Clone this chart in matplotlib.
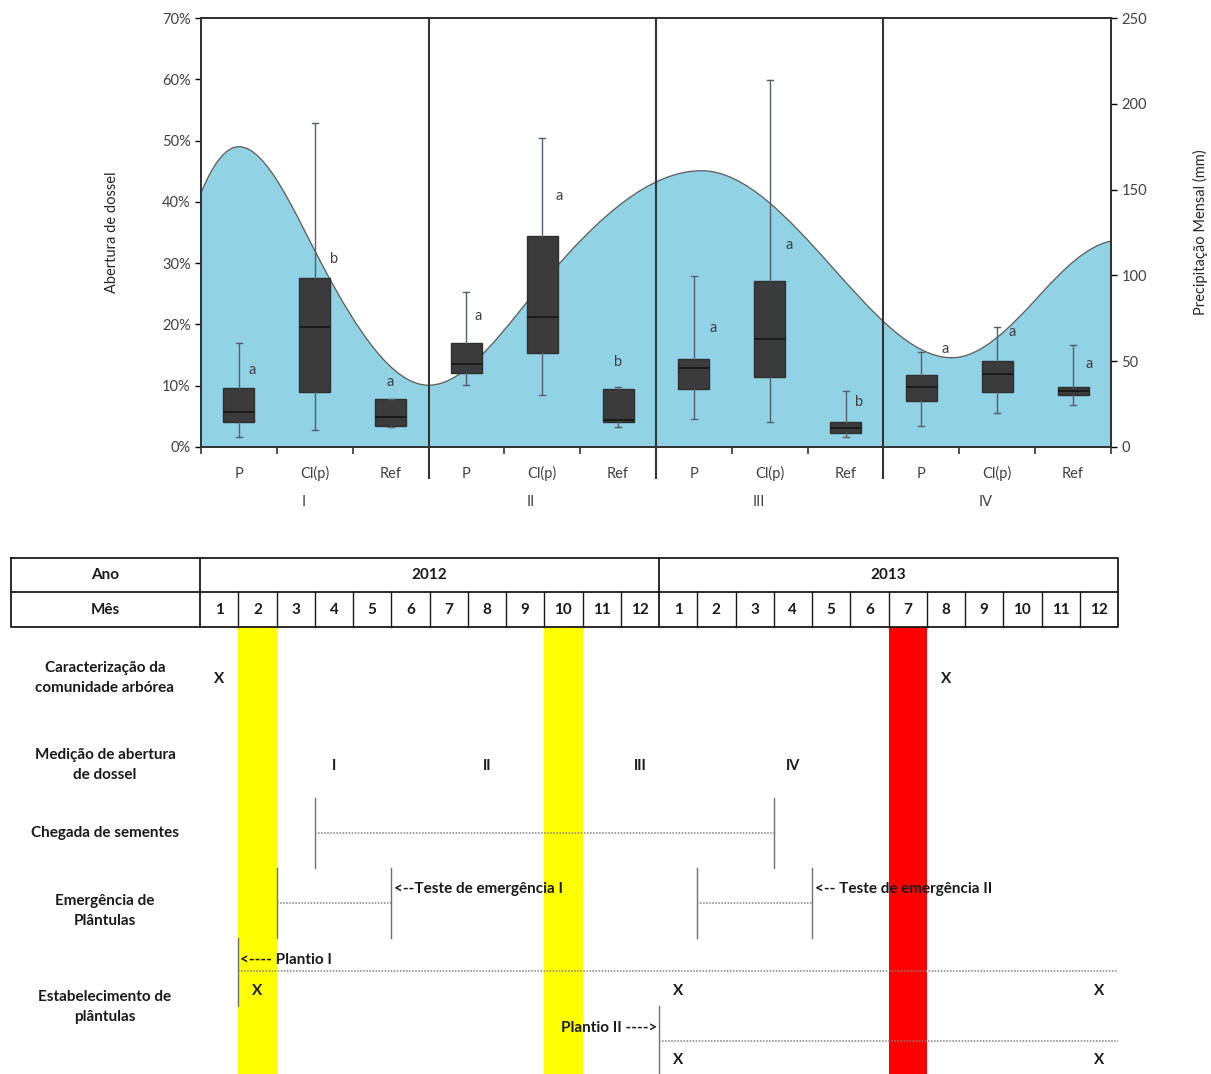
import numpy as np
import matplotlib
matplotlib.use('Agg')
import matplotlib.pyplot as plt
from matplotlib.path import Path
from matplotlib.patches import PathPatch
from matplotlib.ticker import FuncFormatter, FixedLocator
import matplotlib.transforms as mtransforms

plt.rcParams['font.family'] = ['Lato', 'DejaVu Sans']

# ---------------- dados: abertura de dossel (%) ----------------
medicoes = ['I', 'II', 'III', 'IV']
tratamentos = ['P', 'Cl(p)', 'Ref']
whis_lo = [1.6, 2.8, 3.3, 10.1, 8.5, 3.3, 4.6, 4.1, 1.6, 3.4, 5.5, 6.9]
q1 = [4.1, 9.0, 3.4, 12.0, 15.3, 4.1, 9.5, 11.4, 2.3, 7.5, 9.0, 8.5]
mediana = [5.7, 19.6, 4.9, 13.5, 21.2, 4.4, 12.9, 17.6, 3.1, 9.8, 11.9, 9.1]
q3 = [9.6, 27.6, 7.8, 17.0, 34.4, 9.5, 14.4, 27.1, 4.1, 11.7, 14.0, 9.8]
whis_hi = [17.0, 52.9, 7.9, 25.3, 50.4, 9.8, 27.9, 59.9, 9.1, 15.5, 19.6, 16.6]
letras = ['a', 'b', 'a', 'a', 'a', 'b', 'a', 'a', 'b', 'a', 'a', 'a']
letras_y = [12.6, 30.7, 10.6, 21.4, 41.0, 13.9, 19.4, 33.0, 7.3, 16.0, 18.8, 13.5]
letras_dx = [0.18, 0.25, 0.0, 0.15, 0.22, 0.0, 0.25, 0.25, 0.18, 0.32, 0.2, 0.21]

# precipitação mensal (mm): picos, vales e pontos intermediários da curva
prec_x = [-0.5, 0.0, 1.1, 2.5, 4.05, 6.1, 7.8, 9.4, 10.55, 11.5]
prec_mm = [148, 175, 106, 36, 98, 161, 106, 52, 88, 120]
prec_extremo = [False, True, False, True, False, True, False, True, False, False]

# ---------------- dados: cronograma ----------------
anos = ['2012', '2013']
meses = list(range(1, 13))
atividades = ['Caracterização da\ncomunidade arbórea',
              'Medição de abertura\nde dossel',
              'Chegada de sementes',
              'Emergência de\nPlântulas',
              'Estabelecimento de\nplântulas']
meses_amarelos = [(2012, 2), (2012, 10)]
meses_vermelhos = [(2013, 7)]
caracterizacao_x = [(2012, 1), (2013, 8)]
medicao_meses = [(2012, 4), (2012, 8), (2012, 12), (2013, 4)]
chegada_sementes = ((2012, 4), (2013, 4))
testes_emergencia = [((2012, 3), (2012, 6), '<--Teste de emergência I'),
                     ((2013, 2), (2013, 5), '<-- Teste de emergência II')]
plantio_1 = (2012, 2)
plantio_2 = (2013, 1)
estab_x_1 = [(2012, 2), (2013, 1), (2013, 12)]
estab_x_2 = [(2013, 1), (2013, 12)]


def idx(ym):
    ano, mes = ym
    return (ano - 2012) * 12 + mes - 1


def curva_suave(xs, ys, extremos):
    """Curva de Bézier cúbica (Hermite) que passa pelos pontos;
    tangente nula nos picos/vales."""
    x = np.asarray(xs, float)
    y = np.asarray(ys, float)
    h = np.diff(x)
    d = np.zeros_like(y)
    for k in range(1, len(y) - 1):
        if not extremos[k]:
            d[k] = 1.5 * (y[k + 1] - y[k - 1]) / (x[k + 1] - x[k - 1])
    d[0] = 2.0 * (y[1] - y[0]) / h[0]
    d[-1] = 0.25 * (y[-1] - y[-2]) / h[-1]
    verts = [(x[0], y[0])]
    codes = [Path.MOVETO]
    for k in range(len(h)):
        verts += [(x[k] + h[k] / 3, y[k] + d[k] * h[k] / 3),
                  (x[k + 1] - h[k] / 3, y[k + 1] - d[k + 1] * h[k] / 3),
                  (x[k + 1], y[k + 1])]
        codes += [Path.CURVE4] * 3
    return verts, codes


W, H = 1211, 1074
fig = plt.figure(figsize=(W / 100, H / 100), dpi=100)

# ================= gráfico superior =================
ax = fig.add_axes([201 / W, 1 - 447 / H, 910 / W, 429 / H])
ax2 = ax.twinx()
ax.set_zorder(ax2.get_zorder() + 1)
ax.patch.set_visible(False)

verts, codes = curva_suave(prec_x, prec_mm, prec_extremo)
area_v = [(prec_x[0], 0)] + verts + [(prec_x[-1], 0), (prec_x[0], 0)]
area_c = [Path.MOVETO, Path.LINETO] + codes[1:] + [Path.LINETO, Path.CLOSEPOLY]
ax2.add_patch(PathPatch(Path(area_v, area_c), facecolor='#92D2E5', edgecolor='none'))
ax2.add_patch(PathPatch(Path(verts, codes), facecolor='none', edgecolor='#5a5a5a', lw=0.9))
ax2.set_ylim(0, 250)
ax2.set_yticks(range(0, 251, 50))
ax2.set_ylabel('Precipitação Mensal (mm)', fontsize=10.5, color='#262626')
ax2.yaxis.set_label_coords(1.09, 0.5)

n = len(mediana)
stats = [dict(whislo=whis_lo[i], q1=q1[i], med=mediana[i], q3=q3[i], whishi=whis_hi[i])
         for i in range(n)]
ax.bxp(stats, positions=range(n), widths=0.41, showfliers=False, patch_artist=True,
       boxprops=dict(facecolor='#3b3b3b', edgecolor='#2e2e2e', lw=1),
       medianprops=dict(color='#151515', lw=1.2),
       whiskerprops=dict(color='#55606a', lw=1),
       capprops=dict(color='#55606a', lw=1), capwidths=0.08)
for i in range(n):
    ax.text(i + letras_dx[i], letras_y[i], letras[i], ha='center', va='center',
            fontsize=10.5, color='#404040')

ax.set_xlim(-0.5, n - 0.5)
ax.set_ylim(0, 70)
ax.set_yticks(range(0, 71, 10))
ax.yaxis.set_major_formatter(FuncFormatter(lambda v, p: f'{v:.0f}%'))
ax.set_ylabel('Abertura de dossel', fontsize=10.5, color='#262626')
ax.yaxis.set_label_coords(-0.09, 0.5)

ax.set_xticks(range(n))
ax.set_xticklabels(tratamentos * len(medicoes))
for lbl in ax.get_xticklabels():
    lbl.set_verticalalignment('baseline')
ax.xaxis.set_minor_locator(FixedLocator(np.arange(-0.5, n, 1.0)))
ax.tick_params(axis='x', which='major', length=0, pad=22, labelsize=10.5, labelcolor='#404040')
ax.tick_params(axis='x', which='minor', length=5, width=1.2, direction='out', color='#333')
ax.tick_params(axis='y', length=4, width=1, labelsize=10.5, labelcolor='#404040')
ax2.tick_params(axis='y', length=4, width=1, labelsize=10.5, labelcolor='#404040')

for a in (ax, ax2):
    for s in a.spines.values():
        s.set_color('#333333')
        s.set_linewidth(1.3)

trans = mtransforms.blended_transform_factory(ax.transData, ax.transAxes)
for g in range(1, len(medicoes)):
    xd = g * 3 - 0.5
    ax.plot([xd, xd], [-0.072, 1], transform=trans, color='#333333', lw=1.5, clip_on=False)
for g, nome in enumerate(medicoes):
    ax.text(g * 3 + 1 - 0.15, -0.128, nome, transform=trans, ha='center', va='center',
            fontsize=10.5, color='#404040')

# ================= cronograma inferior =================
bx = fig.add_axes([0, 0, 1, (H - 540) / H])
cw = 38.25
x0px = 200
bx.set_xlim((0 - x0px) / cw, (W - x0px) / cw)
bx.set_ylim(H, 540)
bx.axis('off')

nmes = len(anos) * 12
lab_l = (11 - x0px) / cw
lab_c = (105 - x0px) / cw
y_ano = (558, 592)
y_mes = (592, 627)
fonte = dict(fontweight='bold', color='#1a1a1a')

# colunas destacadas
bx.bar([idx(m) + 0.5 for m in meses_amarelos], H - y_mes[1], bottom=y_mes[1], width=1,
       color='#FFFF00', zorder=1)
bx.bar([idx(m) + 0.5 for m in meses_vermelhos], H - y_mes[1], bottom=y_mes[1], width=1,
       color='#FF0000', zorder=1)

# moldura da tabela
lk = dict(color='#1a1a1a', lw=1.3, zorder=3)
bx.plot([lab_l, nmes, nmes, lab_l, lab_l], [y_ano[0], y_ano[0], y_mes[1], y_mes[1], y_ano[0]], **lk)
bx.plot([lab_l, nmes], [y_ano[1]] * 2, **lk)
bx.plot([0, 0], [y_ano[0], y_mes[1]], **lk)
bx.plot([12, 12], [y_ano[0], y_mes[1]], **lk)
for k in range(1, nmes):
    if k != 12:
        bx.plot([k, k], [y_mes[0], y_mes[1]], color='#1a1a1a', lw=1, zorder=3)

bx.text(lab_c, sum(y_ano) / 2, 'Ano', ha='center', va='center', fontsize=11, **fonte)
bx.text(lab_c, sum(y_mes) / 2, 'Mês', ha='center', va='center', fontsize=11, **fonte)
for j, ano in enumerate(anos):
    bx.text(j * 12 + 6, sum(y_ano) / 2, ano, ha='center', va='center', fontsize=11, **fonte)
    for m in meses:
        bx.text(j * 12 + m - 0.5, sum(y_mes) / 2, str(m), ha='center', va='center',
                fontsize=11, **fonte)

# rótulos das atividades
linhas_y = [678, 765, 833, 911, 1007]
for nome, yy in zip(atividades, linhas_y):
    bx.text(lab_c, yy, nome, ha='center', va='center', fontsize=11, linespacing=1.55, **fonte)

for m in caracterizacao_x:
    bx.text(idx(m) + 0.5, 679, 'X', ha='center', va='center', fontsize=11, **fonte, zorder=4)
for nome, m in zip(medicoes, medicao_meses):
    bx.text(idx(m) + 0.5, 766, nome, ha='center', va='center', fontsize=10.5, **fonte)

guia = dict(color='#707070', lw=1, zorder=2)
pont = dict(color='#808080', lw=1.1, ls=(0, (1, 1)), zorder=2)

# chegada de sementes
a, b = idx(chegada_sementes[0]), idx(chegada_sementes[1])
bx.plot([a, a], [798, 868], **guia)
bx.plot([b, b], [798, 868], **guia)
bx.plot([a, b], [833, 833], **pont)

# testes de emergência
for ini, fim, rot in testes_emergencia:
    a, b = idx(ini), idx(fim)
    bx.plot([a, a], [868, 938], **guia)
    bx.plot([b, b], [868, 938], **guia)
    bx.plot([a, b], [903, 903], **pont)
    bx.text(b + 0.07, 889, rot, ha='left', va='center', fontsize=11, zorder=4, **fonte)

# plantios e estabelecimento
a = idx(plantio_1)
bx.plot([a, a], [938, 1006], **guia)
bx.plot([a, nmes], [971, 971], **pont)
bx.text(a + 0.05, 960, '<---- Plantio I', ha='left', va='center', fontsize=11, zorder=4, **fonte)
for m in estab_x_1:
    bx.text(idx(m) + 0.5, 991, 'X', ha='center', va='center', fontsize=11, zorder=4, **fonte)

a = idx(plantio_2)
bx.plot([a, a], [1006, H], **guia)
bx.plot([a, nmes], [1041, 1041], **pont)
bx.text(a - 0.05, 1028, 'Plantio II ---->', ha='right', va='center', fontsize=11, zorder=4, **fonte)
for m in estab_x_2:
    bx.text(idx(m) + 0.5, 1060, 'X', ha='center', va='center', fontsize=11, zorder=4, **fonte)

fig.savefig('out.png', dpi=100)
